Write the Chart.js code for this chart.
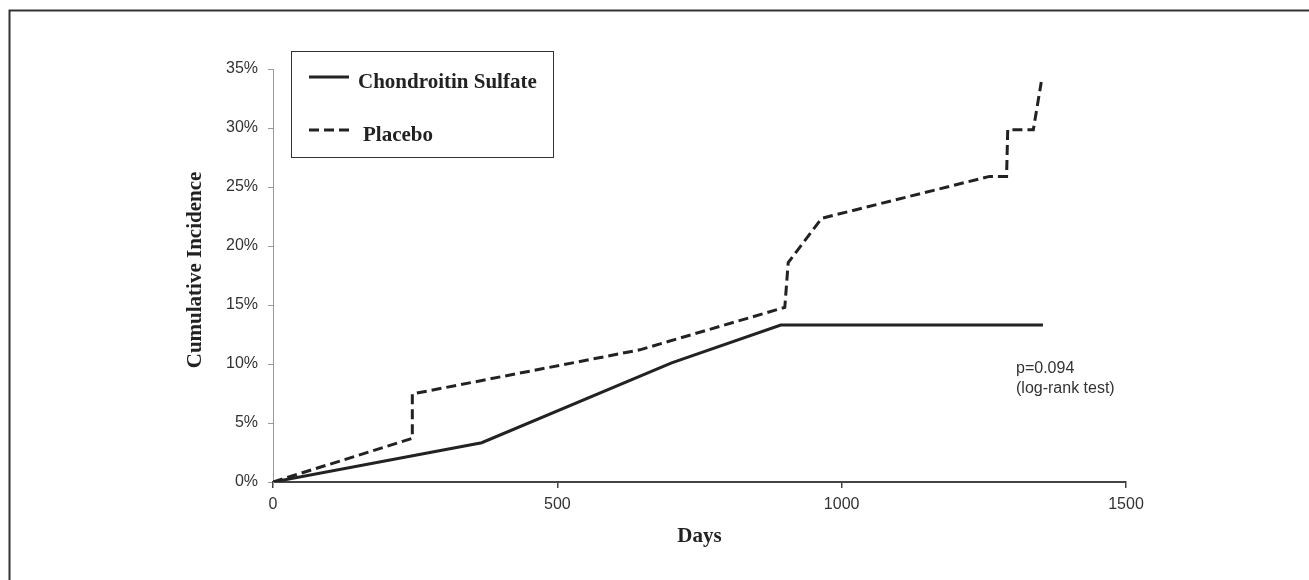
<!DOCTYPE html>
<html>
<head>
<meta charset="utf-8">
<title>Cumulative Incidence</title>
<script src="https://cdn.jsdelivr.net/npm/chart.js@4/dist/chart.umd.min.js"></script>
<style>
  body { margin: 0; background: #fff; }
  canvas { display: block; }
</style>
</head>
<body>
<canvas id="canvas" width="1309" height="580"></canvas>
<script>
/* global Chart */

// values (days, cumulative incidence in %)
var chondroitinDays = [0, 367, 701, 893, 1354]
var chondroitinInc = [0, 3.33, 10.1, 13.3, 13.3]
var placeboDays = [0, 245, 245, 645, 900, 906, 965, 1260, 1290, 1292, 1337, 1351]
var placeboInc = [0, 3.7, 7.46, 11.2, 14.8, 18.6, 22.35, 25.9, 25.9, 29.85, 29.85, 33.9]
var seriesNames = ['Chondroitin Sulfate', 'Placebo']
var xTicks = [0, 500, 1000, 1500]
var yTicks = [0, 5, 10, 15, 20, 25, 30, 35]
var xTitle = 'Days'
var yTitle = 'Cumulative Incidence'
var noteLines = ['p=0.094', '(log-rank test)']

var ink = '#222'
var sans = "'Liberation Sans', Arial, sans-serif"
var serif = "'Liberation Serif', 'Times New Roman', serif"

function toPoints (xs, ys) {
  return xs.map((x, i) => ({ x: x, y: ys[i] }))
}

// frame, legend box, axis titles and the p-value note
var extras = {
  id: 'extras',
  afterDraw (chart) {
    var ctx = chart.ctx
    var area = chart.chartArea
    ctx.save()

    // outer frame (runs off the right and bottom edges)
    ctx.strokeStyle = '#333'
    ctx.lineWidth = 2
    ctx.beginPath()
    ctx.moveTo(9.5, 600)
    ctx.lineTo(9.5, 10.5)
    ctx.lineTo(1320, 10.5)
    ctx.stroke()

    // legend
    ctx.lineWidth = 1
    ctx.strokeStyle = '#333'
    ctx.strokeRect(291.5, 51.5, 262, 106)
    var rows = [77, 130]
    var textX = [358, 363]
    chart.data.datasets.forEach((ds, i) => {
      ctx.beginPath()
      ctx.lineWidth = 3
      ctx.strokeStyle = ds.borderColor
      ctx.setLineDash(ds.borderDash || [])
      ctx.moveTo(309, rows[i])
      ctx.lineTo(349, rows[i])
      ctx.stroke()
      ctx.setLineDash([])
      ctx.fillStyle = ink
      ctx.font = 'bold 21px ' + serif
      ctx.textAlign = 'left'
      ctx.textBaseline = 'middle'
      ctx.fillText(ds.label, textX[i], rows[i] + 6)
    })

    // axis titles
    ctx.fillStyle = ink
    ctx.font = 'bold 21px ' + serif
    ctx.textAlign = 'center'
    ctx.textBaseline = 'middle'
    ctx.fillText(xTitle, (area.left + area.right) / 2, 537)
    ctx.save()
    ctx.translate(196, 270)
    ctx.rotate(-Math.PI / 2)
    ctx.fillText(yTitle, 0, 0)
    ctx.restore()

    // note
    ctx.fillStyle = '#333'
    ctx.font = '16px ' + sans
    ctx.textAlign = 'left'
    ctx.fillText(noteLines[0], 1016, 369)
    ctx.fillText(noteLines[1], 1016, 389)

    ctx.restore()
  }
}

var chart = new Chart(document.getElementById('canvas').getContext('2d'), {
  type: 'scatter',
  data: {
    datasets: [{
      label: seriesNames[0],
      data: toPoints(chondroitinDays, chondroitinInc),
      showLine: true,
      borderColor: ink,
      borderWidth: 3,
      pointRadius: 0,
      fill: false
    }, {
      label: seriesNames[1],
      data: toPoints(placeboDays, placeboInc),
      showLine: true,
      borderColor: ink,
      borderWidth: 3,
      borderDash: [10, 5],
      pointRadius: 0,
      fill: false
    }]
  },
  options: {
    responsive: false,
    animation: false,
    layout: { padding: { left: 0, right: 183, top: 69, bottom: 0 } },
    plugins: {
      legend: { display: false },
      tooltip: { enabled: false }
    },
    scales: {
      x: {
        type: 'linear',
        min: xTicks[0],
        max: xTicks[xTicks.length - 1],
        afterBuildTicks: (axis) => { axis.ticks = xTicks.map(v => ({ value: v })) },
        afterFit: (axis) => { axis.height = 98 },
        ticks: {
          color: '#333',
          font: { family: sans, size: 16 },
          padding: 7,
          maxRotation: 0,
          callback: (v) => String(v)
        },
        grid: {
          drawOnChartArea: false,
          drawTicks: true,
          tickLength: 6,
          color: '#444',
          lineWidth: 1.5
        },
        border: { color: '#444', width: 2 }
      },
      y: {
        type: 'linear',
        min: yTicks[0],
        max: yTicks[yTicks.length - 1],
        afterBuildTicks: (axis) => { axis.ticks = yTicks.map(v => ({ value: v })) },
        afterFit: (axis) => { axis.width = 273 },
        ticks: {
          color: '#333',
          font: { family: sans, size: 16 },
          padding: 10,
          callback: (v) => v + '%'
        },
        grid: {
          drawOnChartArea: false,
          drawTicks: true,
          tickLength: 5,
          color: '#999'
        },
        border: { color: '#999', width: 1 }
      }
    }
  },
  plugins: [extras]
})
</script>
</body>
</html>
